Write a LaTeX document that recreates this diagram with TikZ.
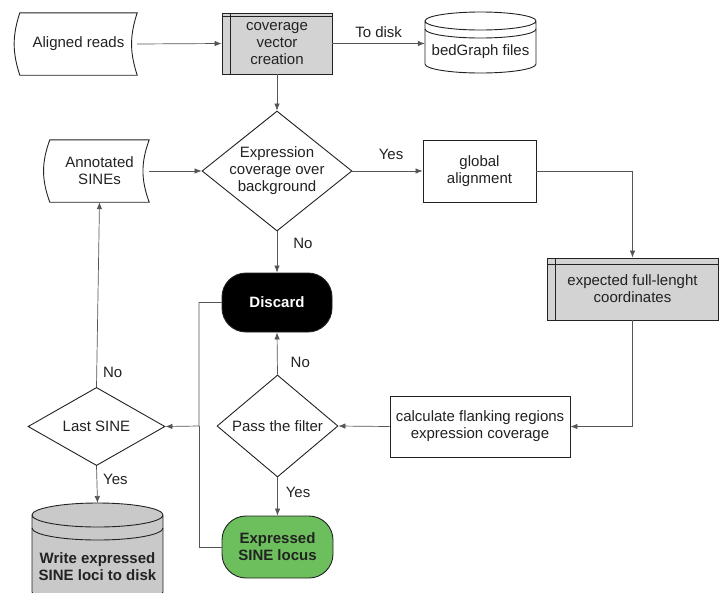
\documentclass[tikz,border=0pt]{standalone}
\usepackage{fontspec}
\setmainfont{Liberation Sans}
\usepackage{tikz}
\usetikzlibrary{shapes.geometric,arrows.meta}
\definecolor{boxgray}{HTML}{D3D3D3}
\definecolor{diskgray}{HTML}{C9C9C9}
\definecolor{locgreen}{HTML}{6CBF5C}
\definecolor{linegray}{HTML}{555555}
\definecolor{ink}{HTML}{222222}
\tikzstyle{box}=[rectangle,draw=ink,line width=0.9pt,fill=white,text=ink,align=center,inner sep=0]
\tikzstyle{store}=[box,fill=boxgray]
\tikzstyle{term}=[box,rounded corners=24pt,font=\fontsize{15}{17}\selectfont\bfseries]
\tikzstyle{test}=[diamond,draw=ink,line width=0.9pt,fill=white,text=ink,align=center,inner sep=0]
\tikzstyle{data}=[rectangle,text=ink,align=center,inner sep=0]
\tikzstyle{outl}=[draw=ink,line width=0.9pt]
\tikzstyle{flow}=[->,draw=linegray,line width=0.7pt,>={Latex[length=7pt,width=5.5pt]}]
\tikzstyle{lbl}=[text=ink,inner sep=0]

\begin{document}
\begin{tikzpicture}[x=1pt,y=-1pt,font=\fontsize{15}{17}\selectfont]
  \useasboundingbox (0,0) rectangle (719,592);

  % lecture et couverture
  \node[data,minimum width=117pt,minimum height=62pt] (ar) at (78.5,44) {Aligned reads};
  \draw[outl] (ar.north west) to[bend right=18] (ar.south west) -- (ar.south east)
    to[bend left=18] (ar.north east) -- cycle;
  \node[store,minimum width=110pt,minimum height=61pt] (cv) at (277,43.5) {coverage\\vector\\creation};
  \draw[outl] ([xshift=9pt]cv.north west) -- ([xshift=9pt]cv.south west);
  \draw[outl] ([yshift=-4pt]cv.north west) -- ([yshift=-4pt]cv.north east);
  \draw[outl,fill=white] (425,21) -- (425,64) arc[start angle=180,end angle=360,x radius=55.5pt,y radius=9pt]
    -- (536,21) arc[start angle=0,end angle=360,x radius=55.5pt,y radius=9pt];
  \draw[outl] (425,29) arc[start angle=180,end angle=360,x radius=55.5pt,y radius=9pt];
  \node[data,minimum width=111pt] (bg) at (480.5,52) {bedGraph files};

  \node[data,minimum width=99pt,minimum height=62pt] (as) at (99.5,171) {Annotated\\SINEs};
  \draw[outl] (as.north west) to[bend right=20] (as.south west) -- (as.south east)
    to[bend left=20] (as.north east) -- cycle;
  \node[test,aspect=1.25,inner sep=-2pt,minimum width=150pt,minimum height=120pt] (ecov) at (277,171)
    {Expression\\coverage over\\background};
  \node[box,minimum width=113pt,minimum height=62pt] (ga) at (479.5,171) {global\\alignment};
  \node[store,minimum width=171pt,minimum height=62pt] (efl) at (632.5,289) {expected full-lenght\\coordinates};
  \draw[outl] ([xshift=9pt]efl.north west) -- ([xshift=9pt]efl.south west);
  \draw[outl] ([yshift=-7pt]efl.north west) -- ([yshift=-7pt]efl.north east);

  \node[term,fill=black,text=white,minimum width=110pt,minimum height=59pt] (disc) at (277,302.5) {Discard};
  \node[test,minimum width=121pt,minimum height=102pt] (pf) at (277.5,426) {Pass the filter};
  \node[box,minimum width=180pt,minimum height=61pt] (cfl) at (480,426.5)
    {calculate flanking regions\\expression coverage};
  \node[test,minimum width=137pt,minimum height=75pt] (ls) at (96.5,426.5) {Last SINE};
  \node[term,fill=locgreen,minimum width=111pt,minimum height=62pt] (exl) at (277.5,547)
    {Expressed\\SINE locus};

  \draw[outl,fill=diskgray] (32,515) -- (32,592) arc[start angle=180,end angle=360,x radius=65.5pt,y radius=12pt]
    -- (163,515) arc[start angle=0,end angle=360,x radius=65.5pt,y radius=12pt];
  \draw[outl] (32,528) arc[start angle=180,end angle=360,x radius=65.5pt,y radius=12pt];
  \node[data,font=\fontsize{15}{17}\selectfont\bfseries,minimum width=131pt] (wr) at (97.5,567)
    {Write expressed\\SINE loci to disk};
  \coordinate (wrtop) at (97.5,503);
  \coordinate (jn) at (199,426);

  \draw[flow] (ar.east) -- (cv.west);
  \draw[flow] (cv.east) -- (cv.east -| bg.west) node[lbl,midway,above=6pt] {To disk};
  \draw[flow] (cv.south) -- (ecov.north);
  \draw[flow] (as.east) -- (ecov.west);
  \draw[flow] (ecov.east) -- (ga.west) node[lbl,pos=0.55,above=11pt] {Yes};
  \draw[flow] (ga.east) -| (efl.north);
  \draw[flow] (ecov.south) -- (disc.north) node[lbl,pos=0.29,right=16pt] {No};
  \draw[flow] (efl.south) |- (cfl.east);
  \draw[flow] (cfl.west) -- (pf.east);
  \draw[flow] (pf.north) -- (disc.south) node[lbl,pos=0.28,right=13pt] {No};
  \draw[flow] (pf.south) -- (exl.north) node[lbl,pos=0.38,right=8pt] {Yes};
  \draw[flow] (disc.west) -| (jn) -- (ls.east);
  \draw[draw=linegray,line width=0.7pt] (exl.west) -| (jn);
  \draw[flow] (ls.north) -- (as.south) node[lbl,pos=0.08,right=6pt] {No};
  \draw[flow] (ls.south) -- (wrtop) node[lbl,pos=0.36,right=6pt] {Yes};
\end{tikzpicture}
\end{document}
